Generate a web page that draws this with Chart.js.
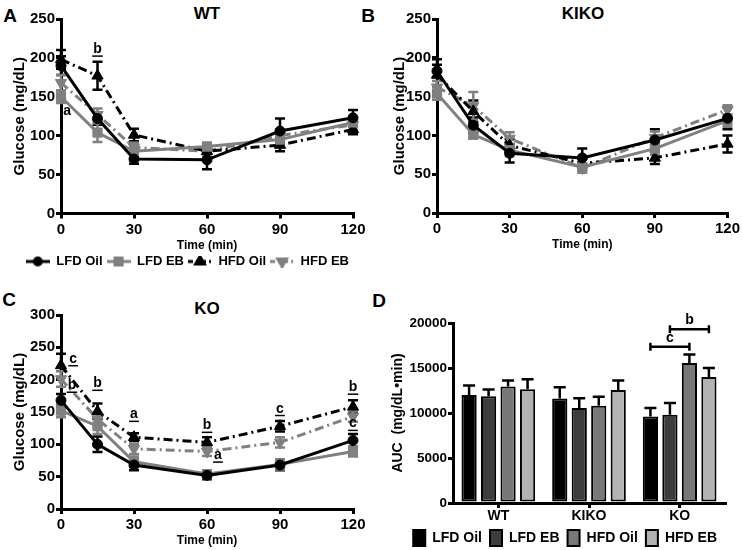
<!DOCTYPE html>
<html>
<head>
<meta charset="utf-8">
<script src="https://cdn.jsdelivr.net/npm/chart.js@4.4.0/dist/chart.umd.min.js"></script>
<style>
body { margin: 0; background: #fff; width: 742px; height: 550px; position: relative; overflow: hidden; font-family: "Liberation Sans", Arial, sans-serif; }
canvas { position: absolute; }
.lbl { position: absolute; font-weight: bold; color: #000; line-height: 1; transform: translate(-50%, -50%); white-space: nowrap; }
</style>
</head>
<body>
<div class="lbl" style="left:10px;top:15px;font-size:19px">A</div>
<div class="lbl" style="left:207px;top:13px;font-size:17px">WT</div>
<div class="lbl" style="left:368px;top:15px;font-size:19px">B</div>
<div class="lbl" style="left:583px;top:13px;font-size:17px">KIKO</div>
<div class="lbl" style="left:9px;top:299px;font-size:19px">C</div>
<div class="lbl" style="left:207px;top:308px;font-size:17px">KO</div>
<div class="lbl" style="left:379px;top:300px;font-size:19px">D</div>

<canvas id="chartA" width="370" height="278" style="left:0;top:0;width:370px;height:278px"></canvas>
<canvas id="chartB" width="372" height="254" style="left:370px;top:0;width:372px;height:254px"></canvas>
<canvas id="chartC" width="370" height="270" style="left:0;top:280px;width:370px;height:270px"></canvas>
<canvas id="chartD" width="372" height="276" style="left:370px;top:280px;width:372px;height:276px"></canvas>

<script>
// ---- data ----
var times = [0, 15, 30, 60, 90, 120];
var seriesNames = ['LFD Oil', 'LFD EB', 'HFD Oil', 'HFD EB'];

// WT glucose (mg/dL) and SEM
var wtLfdOil = [190, 122, 70, 69, 106, 123];
var wtLfdEb = [150, 104, 80, 86, 95, 117];
var wtHfdOil = [198, 177, 101, 80, 88, 108];
var wtHfdEb = [168, 127, 85, 80, 100, 114];
var wtLfdOilSem = [12, 8, 6, 12, 16, 10];
var wtLfdEbSem = [8, 12, 6, 5, 8, 6];
var wtHfdOilSem = [12, 18, 8, 5, 8, 6];
var wtHfdEbSem = [10, 8, 6, 5, 8, 7];

// KIKO
var kikoLfdOil = [183, 113, 77, 71, 94, 122];
var kikoLfdEb = [154, 101, 81, 59, 83, 119];
var kikoHfdOil = [178, 131, 87, 64, 71, 89];
var kikoHfdEb = [162, 138, 96, 58, 97, 133];
var kikoLfdOilSem = [8, 10, 12, 12, 14, 14];
var kikoLfdEbSem = [8, 5, 8, 5, 8, 8];
var kikoHfdOilSem = [20, 14, 8, 6, 8, 11];
var kikoHfdEbSem = [8, 18, 8, 6, 8, 6];

// KO
var koLfdOil = [168, 100, 68, 52, 68, 106];
var koLfdEb = [152, 128, 73, 54, 69, 89];
var koHfdOil = [222, 151, 111, 103, 128, 158];
var koHfdEb = [201, 139, 93, 89, 103, 143];
var koLfdOilSem = [10, 12, 8, 6, 8, 10];
var koLfdEbSem = [10, 12, 8, 6, 8, 8];
var koHfdOilSem = [18, 12, 6, 8, 8, 10];
var koHfdEbSem = [12, 10, 8, 7, 8, 8];

// significance letters (time, glucose value)
var wtLetterText = ['b', 'a'];
var wtLetterTime = [15, 2.5];
var wtLetterValue = [211, 132];
var wtLetterUnder = [true, false];

var koLetterText = ['c', 'b', 'b', 'a', 'b', 'a', 'c', 'b', 'c'];
var koLetterTime = [5, 4.5, 15, 30, 60, 64.5, 90, 120, 120];
var koLetterValue = [232, 191, 194, 146, 129, 83, 155, 188, 132];
var koLetterUnder = [true, true, true, true, true, true, true, true, true];

// AUC (mg/dL*min)
var groups = ['WT', 'KIKO', 'KO'];
var aucLfdOil = [12000, 11600, 9600];
var aucLfdEb = [11850, 10550, 9800];
var aucHfdOil = [12950, 10800, 15550];
var aucHfdEb = [12650, 12550, 14000];
var aucLfdOilSem = [1050, 1250, 950];
var aucLfdEbSem = [750, 1100, 1300];
var aucHfdOilSem = [650, 1000, 950];
var aucHfdEbSem = [1100, 1050, 1000];

// KO brackets: dataset pairs and height
var bracketText = ['c', 'b'];
var bracketFrom = [0, 1];
var bracketTo = [2, 3];
var bracketValue = [17350, 19300];

// ---- styles ----
Chart.defaults.font.family = '"Liberation Sans", Arial, sans-serif';
Chart.defaults.color = '#000';

var dashDot = [9, 4, 2, 4];
var lineStyles = [
    { color: '#000', dash: [], point: 'circle', radius: 5, rot: 0 },
    { color: '#808080', dash: [], point: 'rect', radius: 6.5, rot: 0 },
    { color: '#000', dash: dashDot, point: 'triangle', radius: 6.5, rot: 0 },
    { color: '#808080', dash: dashDot, point: 'triangle', radius: 6.5, rot: 180 }
];
var barColors = ['#000', '#3d3d3d', '#787878', '#b3b3b3'];

// small line+marker sample for the legend
function legendSample(st) {
    var c = document.createElement('canvas');
    c.width = 24; c.height = 12;
    var g = c.getContext('2d');
    g.strokeStyle = st.color; g.fillStyle = st.color; g.lineWidth = 3;
    g.setLineDash(st.dash.length ? [5, 3, 2, 3] : []);
    g.beginPath(); g.moveTo(0, 6); g.lineTo(24, 6); g.stroke();
    g.setLineDash([]);
    Chart.helpers.drawPoint(g, { pointStyle: st.point, radius: st.radius - 1.5, rotation: st.rot, borderWidth: 1 }, 12, 6);
    g.fill();
    return c;
}

function plainTick(v) { return String(v); }

// ---- plugins ----
var errBars = {
    id: 'errBars',
    beforeDatasetsDraw: function(chart, args, opts) {
        if (!opts.sem) return;
        var ctx = chart.ctx, xs = chart.scales.x, ys = chart.scales.y;
        chart.data.datasets.forEach(function(ds, i) {
            var sem = opts.sem[i];
            ctx.save();
            ctx.strokeStyle = ds.borderColor;
            ctx.lineWidth = 2.5;
            ds.data.forEach(function(p, j) {
                var px = xs.getPixelForValue(p.x);
                var y1 = ys.getPixelForValue(p.y + sem[j]);
                var y2 = ys.getPixelForValue(p.y - sem[j]);
                ctx.beginPath();
                ctx.moveTo(px, y1); ctx.lineTo(px, y2);
                ctx.moveTo(px - 5, y1); ctx.lineTo(px + 5, y1);
                ctx.moveTo(px - 5, y2); ctx.lineTo(px + 5, y2);
                ctx.stroke();
            });
            ctx.restore();
        });
    }
};

var letters = {
    id: 'letters',
    afterDatasetsDraw: function(chart, args, opts) {
        if (!opts.text) return;
        var ctx = chart.ctx;
        ctx.save();
        ctx.font = 'bold 14px "Liberation Sans", Arial, sans-serif';
        ctx.fillStyle = '#000';
        ctx.textAlign = 'center';
        ctx.textBaseline = 'middle';
        opts.text.forEach(function(t, i) {
            var px = chart.scales.x.getPixelForValue(opts.time[i]);
            var py = chart.scales.y.getPixelForValue(opts.value[i]);
            ctx.fillText(t, px, py);
            if (opts.under[i]) {
                var w = ctx.measureText(t).width;
                ctx.fillRect(px - w / 2 - 1, py + 6, w + 2, 1.5);
            }
        });
        ctx.restore();
    }
};

var barErr = {
    id: 'barErr',
    afterDatasetsDraw: function(chart, args, opts) {
        if (!opts.sem) return;
        var ctx = chart.ctx, ys = chart.scales.y;
        ctx.save();
        ctx.strokeStyle = '#000';
        ctx.lineWidth = 2.5;
        chart.data.datasets.forEach(function(ds, i) {
            var meta = chart.getDatasetMeta(i);
            ds.data.forEach(function(v, j) {
                var px = meta.data[j].x;
                var y0 = ys.getPixelForValue(v);
                var y1 = ys.getPixelForValue(v + opts.sem[i][j]);
                ctx.beginPath();
                ctx.moveTo(px, y0); ctx.lineTo(px, y1);
                ctx.moveTo(px - 6, y1); ctx.lineTo(px + 6, y1);
                ctx.stroke();
            });
        });
        ctx.restore();
    }
};

var brackets = {
    id: 'brackets',
    afterDatasetsDraw: function(chart, args, opts) {
        if (!opts.text) return;
        var ctx = chart.ctx, ys = chart.scales.y;
        ctx.save();
        ctx.strokeStyle = '#000';
        ctx.fillStyle = '#000';
        ctx.lineWidth = 2.5;
        ctx.font = 'bold 14px "Liberation Sans", Arial, sans-serif';
        ctx.textAlign = 'center';
        ctx.textBaseline = 'middle';
        opts.text.forEach(function(t, i) {
            var x1 = chart.getDatasetMeta(opts.from[i]).data[opts.cat].x;
            var x2 = chart.getDatasetMeta(opts.to[i]).data[opts.cat].x;
            var py = ys.getPixelForValue(opts.value[i]);
            ctx.beginPath();
            ctx.moveTo(x1, py); ctx.lineTo(x2, py);
            ctx.moveTo(x1, py - 4); ctx.lineTo(x1, py + 4);
            ctx.moveTo(x2, py - 4); ctx.lineTo(x2, py + 4);
            ctx.stroke();
            ctx.fillText(t, (x1 + x2) / 2, py - 9);
        });
        ctx.restore();
    }
};

// ---- line charts ----
function lineChart(id, lists, sems, opt) {
    var datasets = lists.map(function(vals, i) {
        var st = lineStyles[i];
        return {
            label: seriesNames[i],
            data: vals.map(function(v, j) { return { x: times[j], y: v }; }),
            borderColor: st.color,
            backgroundColor: st.color,
            borderWidth: 3,
            borderDash: st.dash,
            pointStyle: st.point,
            pointRadius: st.radius,
            pointRotation: st.rot,
            pointBorderWidth: 1,
            tension: 0,
            clip: false
        };
    });
    return new Chart(document.getElementById(id), {
        type: 'line',
        data: { datasets: datasets },
        options: {
            responsive: false,
            animation: false,
            layout: { padding: opt.pad },
            plugins: {
                legend: opt.legend ? {
                    display: true,
                    position: 'bottom',
                    align: 'end',
                    labels: {
                        usePointStyle: true,
                        pointStyleWidth: 24,
                        padding: 4,
                        color: '#000',
                        font: { size: 13, weight: 'bold' },
                        generateLabels: function(chart) {
                            var items = Chart.defaults.plugins.legend.labels.generateLabels(chart);
                            items.forEach(function(it, i) { it.pointStyle = legendSample(lineStyles[i]); it.rotation = 0; });
                            return items;
                        }
                    }
                } : { display: false },
                tooltip: { enabled: false },
                errBars: { sem: sems },
                letters: opt.letters || {}
            },
            scales: {
                x: {
                    type: 'linear', min: 0, max: 120,
                    ticks: { stepSize: 30, color: '#000', font: { size: 15, weight: 'bold' }, padding: 2, maxRotation: 0, callback: plainTick },
                    grid: { drawOnChartArea: false, tickLength: 5, lineWidth: 3, color: '#000' },
                    border: { width: 3, color: '#000' },
                    title: { display: true, text: 'Time (min)', color: '#000', font: { size: 12, weight: 'bold' }, padding: { top: 0, bottom: opt.titlePad } },
                    afterFit: function(s) { s.height = opt.xHeight; }
                },
                y: {
                    min: 0, max: opt.yMax,
                    ticks: { stepSize: 50, color: '#000', font: { size: 15, weight: 'bold' }, padding: 1, callback: plainTick },
                    grid: { drawOnChartArea: false, tickLength: 5, lineWidth: 3, color: '#000' },
                    border: { width: 3, color: '#000' },
                    title: { display: true, text: 'Glucose (mg/dL)', color: '#000', font: { size: 15, weight: 'bold' }, padding: { top: opt.yTitlePad, bottom: 0 } },
                    afterFit: function(s) { s.width = opt.yWidth; }
                }
            }
        },
        plugins: [errBars, letters]
    });
}

lineChart('chartA',
    [wtLfdOil, wtLfdEb, wtHfdOil, wtHfdEb],
    [wtLfdOilSem, wtLfdEbSem, wtHfdOilSem, wtHfdEbSem],
    { pad: { top: 19, right: 17, left: 0, bottom: 0 }, yWidth: 61, xHeight: 37.5, titlePad: -1.5, yTitlePad: 11, yMax: 250, legend: true,
      letters: { text: wtLetterText, time: wtLetterTime, value: wtLetterValue, under: wtLetterUnder } });

lineChart('chartB',
    [kikoLfdOil, kikoLfdEb, kikoHfdOil, kikoHfdEb],
    [kikoLfdOilSem, kikoLfdEbSem, kikoHfdOilSem, kikoHfdEbSem],
    { pad: { top: 19, right: 14, left: 0, bottom: 0 }, yWidth: 67, xHeight: 41, titlePad: 2, yTitlePad: 21, yMax: 250, legend: false });

lineChart('chartC',
    [koLfdOil, koLfdEb, koHfdOil, koHfdEb],
    [koLfdOilSem, koLfdEbSem, koHfdOilSem, koHfdEbSem],
    { pad: { top: 35, right: 17, left: 0, bottom: 0 }, yWidth: 61, xHeight: 41, titlePad: 2, yTitlePad: 11, yMax: 300, legend: false,
      letters: { text: koLetterText, time: koLetterTime, value: koLetterValue, under: koLetterUnder } });

// ---- AUC bar chart ----
var aucLists = [aucLfdOil, aucLfdEb, aucHfdOil, aucHfdEb];
new Chart(document.getElementById('chartD'), {
    type: 'bar',
    data: {
        labels: groups,
        datasets: aucLists.map(function(vals, i) {
            return {
                label: seriesNames[i],
                data: vals,
                backgroundColor: barColors[i],
                borderColor: '#000',
                borderWidth: 2,
                borderSkipped: false,
                categoryPercentage: 0.86,
                barPercentage: 0.78
            };
        })
    },
    options: {
        responsive: false,
        animation: false,
        layout: { padding: { top: 43, right: 17, left: 0, bottom: 0 } },
        plugins: {
            legend: {
                position: 'bottom',
                align: 'end',
                labels: { boxWidth: 12, boxHeight: 16, padding: 8, color: '#000', font: { size: 14, weight: 'bold' } }
            },
            tooltip: { enabled: false },
            barErr: { sem: [aucLfdOilSem, aucLfdEbSem, aucHfdOilSem, aucHfdEbSem] },
            brackets: { text: bracketText, from: bracketFrom, to: bracketTo, value: bracketValue, cat: 2 }
        },
        scales: {
            x: {
                ticks: { color: '#000', font: { size: 14, weight: 'bold' }, padding: 0 },
                grid: { drawOnChartArea: false, offset: false, tickLength: 5, lineWidth: 3, color: '#000' },
                border: { width: 3, color: '#000' },
                afterFit: function(s) { s.height = 19; }
            },
            y: {
                min: 0, max: 20000,
                ticks: { stepSize: 5000, color: '#000', font: { size: 13.5, weight: 'bold' }, padding: 1, callback: plainTick },
                grid: { drawOnChartArea: false, tickLength: 5, lineWidth: 3, color: '#000' },
                border: { width: 3, color: '#000' },
                title: { display: true, text: 'AUC  (mg/dL\u2022min)', color: '#000', font: { size: 14, weight: 'bold' }, padding: { top: 20, bottom: 0 } },
                afterFit: function(s) { s.width = 83; }
            }
        }
    },
    plugins: [barErr, brackets]
});
</script>
</body>
</html>
